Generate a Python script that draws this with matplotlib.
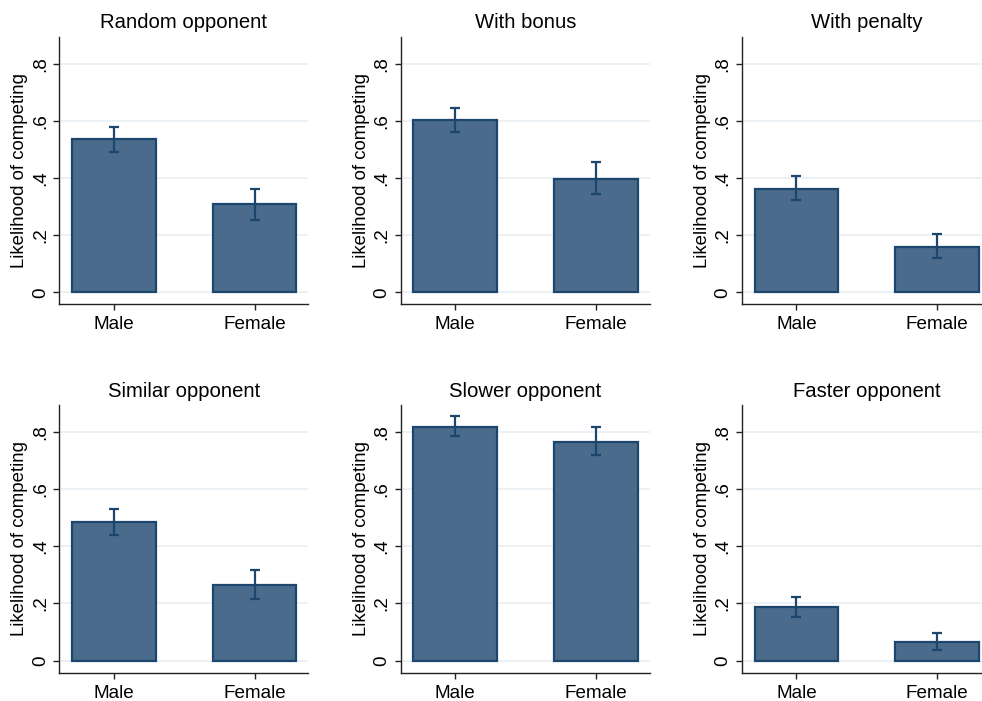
import matplotlib
matplotlib.use("Agg")
import matplotlib.pyplot as plt
import numpy as np

plt.rcParams["font.family"] = ["Liberation Sans", "DejaVu Sans"]

titles = ["Random opponent", "With bonus", "With penalty",
          "Similar opponent", "Slower opponent", "Faster opponent"]
groups = ["Male", "Female"]

# mean likelihood of competing (Male, Female) per treatment
means = [
    [0.535, 0.308],
    [0.603, 0.396],
    [0.363, 0.160],
    [0.485, 0.263],
    [0.817, 0.766],
    [0.187, 0.064],
]
ci_low = [
    [0.490, 0.254],
    [0.562, 0.344],
    [0.322, 0.119],
    [0.441, 0.216],
    [0.786, 0.719],
    [0.153, 0.039],
]
ci_high = [
    [0.578, 0.360],
    [0.646, 0.455],
    [0.406, 0.204],
    [0.531, 0.316],
    [0.854, 0.816],
    [0.222, 0.096],
]
yticks = [0, 0.2, 0.4, 0.6, 0.8]
ytick_labels = ["0", ".2", ".4", ".6", ".8"]

W, H = 982, 701
fig = plt.figure(figsize=(W / 100, H / 100), dpi=100)

fill = "#4a6b8b"
edge = "#1c466d"
grid_c = "#e8eff2"
spine_c = "#222222"

ax_w = 249
lefts = [59.3, 400.7, 742.0]
rows = [(36.7, 304.3), (405.0, 672.7)]

x = np.array([1.0, 2.0])
for i in range(6):
    r, c = divmod(i, 3)
    top, bot = rows[r]
    ax = fig.add_axes([lefts[c] / W, 1 - bot / H, ax_w / W, (bot - top) / H])
    m = np.array(means[i])
    lo = np.array(ci_low[i])
    hi = np.array(ci_high[i])
    ax.bar(x, m, width=0.595, color=fill, edgecolor=edge, linewidth=1.6, zorder=2)
    ax.errorbar(x, m, yerr=[m - lo, hi - m], fmt="none", ecolor=edge,
                elinewidth=1.6, capsize=3.3, capthick=1.6, zorder=3)
    ax.set_xlim(0.613, 2.382)
    ax.set_ylim(-0.042, 0.894)
    ax.set_yticks(yticks)
    ax.set_yticklabels(ytick_labels, rotation=90, va="center")
    ax.set_xticks(x)
    ax.set_xticklabels(groups)
    ax.grid(axis="y", color=grid_c, linewidth=1.2, zorder=0)
    ax.set_axisbelow(True)
    for s in ("top", "right"):
        ax.spines[s].set_visible(False)
    for s in ("left", "bottom"):
        ax.spines[s].set_color(spine_c)
        ax.spines[s].set_linewidth(1.0)
    ax.tick_params(axis="both", colors=spine_c, length=4.5, width=1.0,
                   labelsize=13.6, labelcolor="black")
    ax.tick_params(axis="y", pad=3)
    ax.tick_params(axis="x", pad=4)
    ax.set_ylabel("Likelihood of competing", fontsize=13.4, labelpad=2.5)
    ax.set_title(titles[i], fontsize=14.6, pad=6)

fig.savefig("out.png", dpi=100, facecolor="white")
